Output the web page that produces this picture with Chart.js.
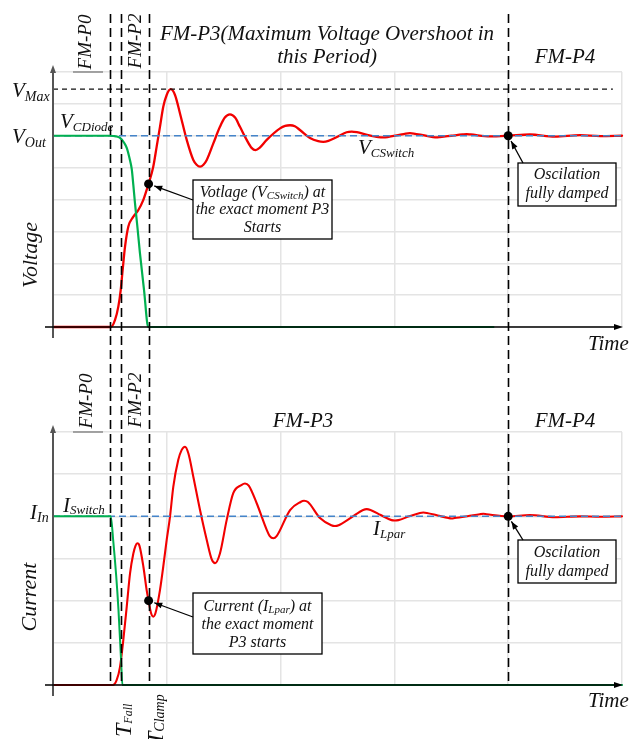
<!DOCTYPE html>
<html><head><meta charset="utf-8">
<script src="https://cdn.jsdelivr.net/npm/chart.js@4.4.0/dist/chart.umd.min.js"></script>
<style>
html,body{margin:0;padding:0;background:#fff;}
#wrap{position:relative;width:639px;height:739px;overflow:hidden;background:#fff;}
canvas{position:absolute;left:0;top:0;}
</style></head>
<body><div id="wrap"><canvas id="cv" width="639" height="739"></canvas><canvas id="ci" width="639" height="739"></canvas></div>
<script>
// ---------------- data ----------------
const timeRange = [0, 5];
const voltRange = [0, 8];
const currRange = [0, 6];
const phaseBounds = [0.5, 0.6, 0.84, 4.0];   // FM-P0|P1|P2|P3|P4 boundaries
const vOut = 6, vMax = 7.46, iIn = 4;
const vMaxLineEnd = 4.92;
const p3Start = 0.84, dampedAt = 4.0;

// V_CSwitch (red, top)
const vSwitchT = [0,0.51,0.545,0.574,0.595,0.612,0.633,0.662,0.706,0.75,0.793,0.823,0.84,0.881,0.911,0.94,0.969,0.999,1.034,1.072,1.116,1.175,1.233,1.262,1.292,1.322,1.351,1.409,1.467,1.51,1.555,1.6,1.643,1.702,1.745,1.78,1.815,1.878,1.995,2.04,2.083,2.125,2.17,2.258,2.33,2.375,2.42,2.5,2.58,2.625,2.67,2.76,2.86,2.902,2.94,3.02,3.1,3.137,3.17,3.25,3.34,3.372,3.4,3.5,3.6,3.635,3.67,3.84,4.0,4.19,4.41,4.63,4.81,5.0];
const vSwitchV = [0,0,0.22,0.64,1.16,1.79,2.52,3.15,3.46,3.67,3.98,4.30,4.49,5.03,5.66,6.28,6.91,7.28,7.46,7.28,6.70,5.87,5.24,5.09,5.03,5.09,5.24,5.76,6.28,6.57,6.67,6.57,6.28,5.87,5.62,5.55,5.62,5.87,6.23,6.31,6.33,6.30,6.18,5.93,5.83,5.81,5.84,5.97,6.11,6.13,6.11,6.03,5.96,5.95,5.96,6.01,6.07,6.08,6.07,6.02,5.96,5.95,5.96,6.0,6.04,6.05,6.04,5.98,6.0,6.04,5.97,6.02,5.99,6.0];
// V_CDiode (green, top)
const vDiodeT = [0,0.5,0.554,0.589,0.625,0.648,0.672,0.692,0.706,0.72,0.74,0.764,0.8,0.837,3.87];
const vDiodeV = [6,6,5.98,5.93,5.78,5.62,5.3,4.95,4.45,3.9,3.2,2.32,1.16,0,0];
// I_Lpar (red, bottom)
const iLparT = [0,0.527,0.56,0.589,0.618,0.648,0.677,0.706,0.725,0.741,0.76,0.794,0.823,0.84,0.862,0.881,0.90,0.94,0.969,0.999,1.028,1.057,1.101,1.13,1.16,1.19,1.233,1.292,1.351,1.395,1.424,1.467,1.526,1.584,1.655,1.687,1.72,1.79,1.878,1.905,1.936,1.965,2.083,2.175,2.206,2.24,2.346,2.445,2.478,2.51,2.62,2.725,2.757,2.79,2.88,2.975,3.005,3.035,3.13,3.225,3.254,3.285,3.38,3.475,3.503,3.53,3.64,3.75,3.781,3.81,4.0,4.19,4.41,4.63,4.81,5.0];
const iLparI = [0,0,0.12,0.43,1.07,1.86,2.65,3.12,3.30,3.36,3.30,2.81,2.25,2.0,1.70,1.62,1.70,2.25,2.81,3.44,3.99,4.70,5.34,5.57,5.65,5.49,4.94,4.15,3.44,2.98,2.89,3.12,3.91,4.55,4.74,4.78,4.73,4.31,3.68,3.53,3.48,3.53,4.15,4.34,4.37,4.34,3.96,3.79,3.77,3.79,3.97,4.15,4.17,4.15,4.03,3.91,3.90,3.91,4.0,4.08,4.09,4.08,4.02,3.96,3.95,3.96,4.0,4.05,4.06,4.05,4.0,4.03,3.98,4.0,3.99,4.0];
// I_Switch (green, bottom)
const iSwitchT = [0,0.507,0.53,0.555,0.575,0.598,0.61,5.0];
const iSwitchI = [4,4,3.4,2.6,1.8,0.6,0,0];
// marked points
const voltMarkT = [p3Start, dampedAt];
const voltMarkV = [4.49, vOut];
const currMarkT = [p3Start, dampedAt];
const currMarkI = [2.0, iIn];

// ---------------- helpers ----------------
const RED = '#f20000', GREEN = '#00b050', BLUE = '#4584c9', GRID = '#e4e4e4';
const xy = (ts, vs) => ts.map((t, i) => ({x: t, y: vs[i]}));
const italic = px => `italic ${px}px "Liberation Serif", "DejaVu Serif", serif`;

function drawRuns(ctx, x, y, runs, align, base) {
  let total = 0;
  runs.forEach(r => { ctx.font = italic(r.px); r.w = ctx.measureText(r.t).width; total += r.w; });
  let cx = align === 'center' ? x - total / 2 : (align === 'right' ? x - total : x);
  ctx.textAlign = 'left'; ctx.textBaseline = base || 'alphabetic';
  ctx.fillStyle = '#111';
  runs.forEach(r => { ctx.font = italic(r.px); ctx.fillText(r.t, cx, y + (r.dy || 0)); cx += r.w; });
}
function rotRuns(ctx, x, y, runs, align, base) {
  ctx.save(); ctx.translate(x, y); ctx.rotate(-Math.PI / 2);
  drawRuns(ctx, 0, 0, runs, align, base); ctx.restore();
}
function arrowHead(ctx, x1, y1, x2, y2, len, w) {
  const a = Math.atan2(y2 - y1, x2 - x1);
  ctx.beginPath();
  ctx.moveTo(x2, y2);
  ctx.lineTo(x2 - len * Math.cos(a) + w * Math.sin(a), y2 - len * Math.sin(a) - w * Math.cos(a));
  ctx.lineTo(x2 - len * Math.cos(a) - w * Math.sin(a), y2 - len * Math.sin(a) + w * Math.cos(a));
  ctx.closePath(); ctx.fill();
}
function calloutArrow(ctx, fx, fy, tx, ty) {
  const a = Math.atan2(ty - fy, tx - fx);
  const ex = tx - 6 * Math.cos(a), ey = ty - 6 * Math.sin(a);
  ctx.strokeStyle = '#000'; ctx.fillStyle = '#000'; ctx.lineWidth = 1.3; ctx.setLineDash([]);
  ctx.beginPath(); ctx.moveTo(fx, fy); ctx.lineTo(ex, ey); ctx.stroke();
  arrowHead(ctx, fx, fy, ex, ey, 8, 3);
}
function box(ctx, x, y, w, h) {
  ctx.fillStyle = '#fff'; ctx.fillRect(x, y, w, h);
  ctx.strokeStyle = '#000'; ctx.lineWidth = 1.3; ctx.setLineDash([]); ctx.strokeRect(x, y, w, h);
}
function drawAxes(ctx, chart) {
  const a = chart.chartArea, y0 = chart.scales.y.getPixelForValue(0);
  ctx.save();
  ctx.strokeStyle = '#8a8a8a'; ctx.lineWidth = 1.5;
  ctx.beginPath(); ctx.moveTo(73, a.top); ctx.lineTo(103, a.top); ctx.stroke();
  ctx.strokeStyle = '#555'; ctx.fillStyle = '#555'; ctx.lineWidth = 2;
  ctx.beginPath(); ctx.moveTo(a.left, y0 + 11); ctx.lineTo(a.left, a.top - 2); ctx.stroke();
  arrowHead(ctx, a.left, a.top + 10, a.left, a.top - 7, 8, 3);
  ctx.strokeStyle = '#000'; ctx.fillStyle = '#000'; ctx.lineWidth = 1.6;
  ctx.beginPath(); ctx.moveTo(a.left - 8, y0); ctx.lineTo(a.right - 4, y0); ctx.stroke();
  arrowHead(ctx, a.left, y0, a.right + 1, y0, 9, 3);
  ctx.restore();
}

function baseOptions(yRange, pad) {
  return {
    responsive: false, animation: false, events: [],
    layout: {padding: pad},
    plugins: {legend: {display: false}, tooltip: {enabled: false}, title: {display: false}},
    scales: {
      x: {type: 'linear', min: timeRange[0], max: timeRange[1], ticks: {display: false, stepSize: 1},
          grid: {color: GRID, lineWidth: 1.5, drawTicks: false}, border: {display: false}},
      y: {type: 'linear', min: yRange[0], max: yRange[1], ticks: {display: false, stepSize: 1},
          grid: {color: GRID, lineWidth: 1.5, drawTicks: false}, border: {display: false}}
    }
  };
}
function lineDs(data, color, width, dash, extra) {
  return Object.assign({data, borderColor: color, borderWidth: width, borderDash: dash || [],
    pointRadius: 0, fill: false, cubicInterpolationMode: 'monotone', tension: 0.4, clip: 8,
    borderJoinStyle: 'round', borderCapStyle: 'round'}, extra || {});
}
function markDs(data) {
  return {data, showLine: false, pointRadius: 4.5, pointBackgroundColor: '#000', pointBorderColor: '#000',
    pointBorderWidth: 0, clip: 10};
}
const straight = {cubicInterpolationMode: 'default', tension: 0, borderCapStyle: 'butt'};

// ---------------- top chart: Voltage ----------------
const topOverlay = {
  id: 'topOverlay',
  afterDatasetsDraw(chart) {
    const ctx = chart.ctx, xs = chart.scales.x, ys = chart.scales.y;
    drawAxes(ctx, chart);
    ctx.save();
    rotRuns(ctx, 86, 42, [{t: 'FM-P0', px: 19}], 'center', 'middle');
    rotRuns(ctx, 136, 41, [{t: 'FM-P2', px: 19}], 'center', 'middle');
    drawRuns(ctx, 327, 40, [{t: 'FM-P3(Maximum Voltage Overshoot in', px: 21}], 'center');
    drawRuns(ctx, 327, 63, [{t: 'this Period)', px: 21}], 'center');
    drawRuns(ctx, 565, 63, [{t: 'FM-P4', px: 21}], 'center');
    drawRuns(ctx, 12, ys.getPixelForValue(vMax) + 8, [{t: 'V', px: 21}, {t: 'Max', px: 14, dy: 4}], 'left');
    drawRuns(ctx, 12, ys.getPixelForValue(vOut) + 7, [{t: 'V', px: 21}, {t: 'Out', px: 14, dy: 4}], 'left');
    drawRuns(ctx, 60, 128, [{t: 'V', px: 21}, {t: 'CDiode', px: 13, dy: 3}], 'left');
    drawRuns(ctx, 358, 154, [{t: 'V', px: 21}, {t: 'CSwitch', px: 13, dy: 3}], 'left');
    rotRuns(ctx, 31, 255, [{t: 'Voltage', px: 22}], 'center', 'middle');
    drawRuns(ctx, 588, 350, [{t: 'Time', px: 21}], 'left');
    const d1x = xs.getPixelForValue(voltMarkT[0]), d1y = ys.getPixelForValue(voltMarkV[0]);
    const d2x = xs.getPixelForValue(voltMarkT[1]), d2y = ys.getPixelForValue(voltMarkV[1]);
    box(ctx, 193, 180, 139, 59);
    calloutArrow(ctx, 193, 200, d1x, d1y);
    drawRuns(ctx, 262.5, 197, [{t: 'Votlage (V', px: 16}, {t: 'CSwitch', px: 11, dy: 2}, {t: ') at', px: 16}], 'center');
    drawRuns(ctx, 262.5, 214, [{t: 'the exact moment P3', px: 16}], 'center');
    drawRuns(ctx, 262.5, 232, [{t: 'Starts', px: 16}], 'center');
    box(ctx, 518, 163, 98, 43);
    calloutArrow(ctx, 523, 163, d2x, d2y);
    drawRuns(ctx, 567, 179, [{t: 'Oscilation', px: 16}], 'center');
    drawRuns(ctx, 567, 198, [{t: 'fully damped', px: 16}], 'center');
    ctx.restore();
  }
};
new Chart(document.getElementById('cv'), {
  type: 'line',
  data: {datasets: [
    markDs(xy(voltMarkT, voltMarkV)),
    lineDs(xy(vDiodeT, vDiodeV), GREEN, 2.2),
    lineDs([{x: timeRange[0], y: vOut}, {x: timeRange[1], y: vOut}], BLUE, 1.5, [7, 4], straight),
    lineDs([{x: timeRange[0], y: vMax}, {x: vMaxLineEnd, y: vMax}], '#111', 1.2, [5, 4], straight),
    lineDs(xy(vSwitchT, vSwitchV), RED, 2.3)
  ]},
  options: baseOptions(voltRange, {left: 53, top: 72, right: 17, bottom: 412}),
  plugins: [topOverlay]
});

// ---------------- bottom chart: Current ----------------
const botOverlay = {
  id: 'botOverlay',
  afterDatasetsDraw(chart) {
    const ctx = chart.ctx, xs = chart.scales.x, ys = chart.scales.y;
    drawAxes(ctx, chart);
    ctx.save();
    ctx.strokeStyle = '#000'; ctx.lineWidth = 1.6; ctx.setLineDash([9, 5]);
    const yb = ys.getPixelForValue(0);
    phaseBounds.forEach(b => {
      const px = Math.round(xs.getPixelForValue(b)) + 0.5;
      ctx.beginPath(); ctx.moveTo(px, 14); ctx.lineTo(px, yb); ctx.stroke();
    });
    ctx.setLineDash([]);
    rotRuns(ctx, 87, 401, [{t: 'FM-P0', px: 19}], 'center', 'middle');
    rotRuns(ctx, 136, 400, [{t: 'FM-P2', px: 19}], 'center', 'middle');
    drawRuns(ctx, 303, 427, [{t: 'FM-P3', px: 21}], 'center');
    drawRuns(ctx, 565, 427, [{t: 'FM-P4', px: 21}], 'center');
    drawRuns(ctx, 30, ys.getPixelForValue(iIn) + 3, [{t: 'I', px: 21}, {t: 'In', px: 14, dy: 3}], 'left');
    drawRuns(ctx, 63, 512, [{t: 'I', px: 21}, {t: 'Switch', px: 13, dy: 2}], 'left');
    drawRuns(ctx, 373, 535, [{t: 'I', px: 21}, {t: 'Lpar', px: 13, dy: 3}], 'left');
    rotRuns(ctx, 30, 597, [{t: 'Current', px: 22}], 'center', 'middle');
    drawRuns(ctx, 588, 707, [{t: 'Time', px: 21}], 'left');
    rotRuns(ctx, 131, 737, [{t: 'T', px: 24}, {t: 'Fall', px: 12, dy: 1}], 'left');
    rotRuns(ctx, 163, 745, [{t: 'T', px: 24}, {t: 'Clamp', px: 14, dy: 1}], 'left');
    const d1x = xs.getPixelForValue(currMarkT[0]), d1y = ys.getPixelForValue(currMarkI[0]);
    const d2x = xs.getPixelForValue(currMarkT[1]), d2y = ys.getPixelForValue(currMarkI[1]);
    box(ctx, 193, 593, 129, 61);
    calloutArrow(ctx, 193, 617, d1x, d1y);
    drawRuns(ctx, 257.5, 611, [{t: 'Current (I', px: 16}, {t: 'Lpar', px: 11, dy: 2}, {t: ') at', px: 16}], 'center');
    drawRuns(ctx, 257.5, 629, [{t: 'the exact moment', px: 16}], 'center');
    drawRuns(ctx, 257.5, 647, [{t: 'P3 starts', px: 16}], 'center');
    box(ctx, 518, 540, 98, 43);
    calloutArrow(ctx, 523, 540, d2x, d2y);
    drawRuns(ctx, 567, 557, [{t: 'Oscilation', px: 16}], 'center');
    drawRuns(ctx, 567, 576, [{t: 'fully damped', px: 16}], 'center');
    ctx.restore();
  }
};
new Chart(document.getElementById('ci'), {
  type: 'line',
  data: {datasets: [
    markDs(xy(currMarkT, currMarkI)),
    lineDs(xy(iSwitchT, iSwitchI), GREEN, 2.0),
    lineDs([{x: timeRange[0], y: iIn}, {x: timeRange[1], y: iIn}], BLUE, 1.5, [7, 4], straight),
    lineDs(xy(iLparT, iLparI), RED, 2.1)
  ]},
  options: baseOptions(currRange, {left: 53, top: 432, right: 17, bottom: 54}),
  plugins: [botOverlay]
});
</script>
</body></html>
